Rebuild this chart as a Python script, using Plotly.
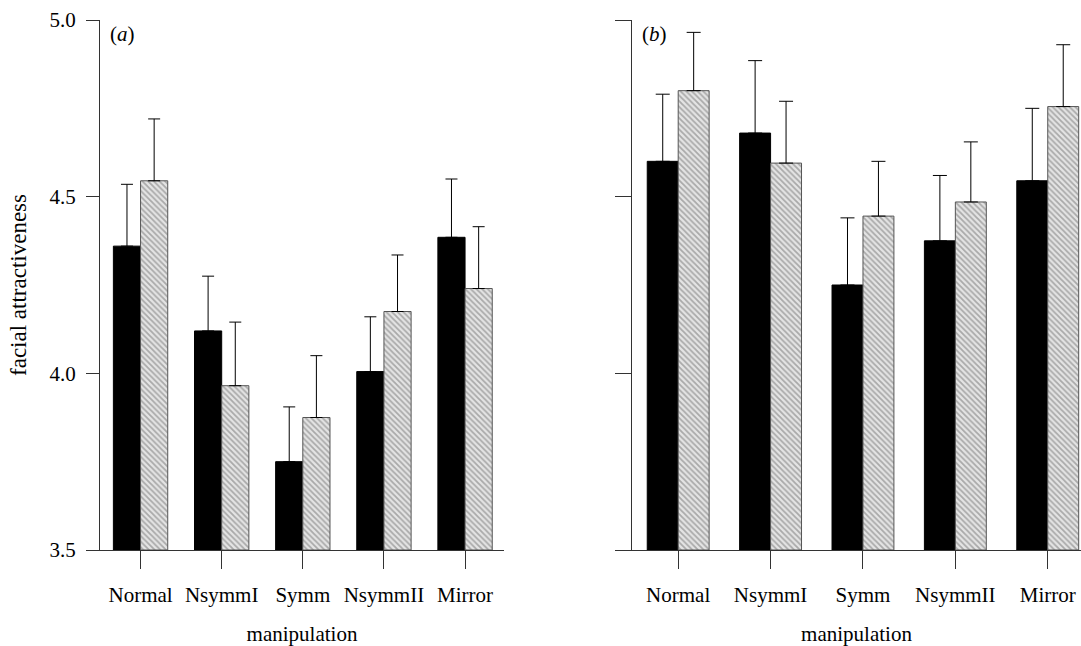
import plotly.graph_objects as go

categories = ["Normal", "NsymmI", "Symm", "NsymmII", "Mirror"]

# panel (a)
a_black = [4.36, 4.12, 3.75, 4.005, 4.385]
a_black_err = [0.175, 0.155, 0.155, 0.155, 0.165]
a_grey = [4.545, 3.965, 3.875, 4.175, 4.24]
a_grey_err = [0.175, 0.18, 0.175, 0.16, 0.175]

# panel (b)
b_black = [4.60, 4.68, 4.25, 4.375, 4.545]
b_black_err = [0.19, 0.205, 0.19, 0.185, 0.205]
b_grey = [4.80, 4.595, 4.445, 4.485, 4.755]
b_grey_err = [0.165, 0.175, 0.155, 0.17, 0.175]

y_ticks = [3.5, 4.0, 4.5, 5.0]

FONT = "Liberation Serif"
grey_pattern = dict(shape="\\", fgcolor="#6e6e6e", bgcolor="#e4e4e4", size=4, solidity=0.45)

fig = go.Figure()

def add_panel(black, black_err, grey, grey_err, xa, ya, capw):
    fig.add_trace(go.Bar(
        x=categories, y=[v - 3.5 for v in black], base=3.5,
        marker=dict(color="black", line=dict(color="black", width=1)),
        error_y=dict(type="data", symmetric=False, array=black_err,
                     arrayminus=[0] * len(black), color="black",
                     thickness=1, width=capw),
        xaxis=xa, yaxis=ya, showlegend=False,
    ))
    fig.add_trace(go.Bar(
        x=categories, y=[v - 3.5 for v in grey], base=3.5,
        marker=dict(color="#bdbdbd", pattern=grey_pattern,
                    line=dict(color="#555555", width=1)),
        error_y=dict(type="data", symmetric=False, array=grey_err,
                     arrayminus=[0] * len(grey), color="black",
                     thickness=1, width=capw),
        xaxis=xa, yaxis=ya, showlegend=False,
    ))

add_panel(a_black, a_black_err, a_grey, a_grey_err, "x", "y", 6)
add_panel(b_black, b_black_err, b_grey, b_grey_err, "x2", "y2", 7)

W, H = 1081, 646

xcommon = dict(
    type="category", showline=True, linecolor="#333333", linewidth=1,
    ticks="outside", ticklen=18, tickcolor="#333333", tickwidth=1,
    tickfont=dict(family=FONT, size=21, color="black"),
    ticklabelstandoff=8, showgrid=False, zeroline=False,
    title=dict(text="manipulation", font=dict(family=FONT, size=21, color="black"),
               standoff=21),
)
ycommon = dict(
    range=[3.5, 5.0], tickvals=y_ticks, showline=True, linecolor="#333333",
    linewidth=1, ticks="outside", tickcolor="#333333", tickwidth=1,
    showgrid=False, zeroline=False,
)

fig.update_layout(
    width=W, height=H,
    margin=dict(l=0, r=0, t=20, b=96),
    paper_bgcolor="white", plot_bgcolor="white",
    barmode="group", bargap=0.33, bargroupgap=0,
    font=dict(family=FONT, color="black"),
    xaxis=dict(domain=[100 / W, 504 / W], range=[-0.5, 4.48], anchor="y", **xcommon),
    xaxis2=dict(domain=[632 / W, 1.0], range=[-0.5, 4.36], anchor="y2", **xcommon),
    yaxis=dict(domain=[0, 1], anchor="x", ticklen=13, tickformat=".1f",
               ticklabelstandoff=6,
               tickfont=dict(family=FONT, size=21, color="black"),
               title=dict(text="facial attractiveness",
                          font=dict(family=FONT, size=23, color="black"),
                          standoff=16),
               **ycommon),
    yaxis2=dict(domain=[0, 1], anchor="x2", ticklen=16, showticklabels=False,
                **ycommon),
    annotations=[
        dict(text="(<i>a</i>)", xref="paper", yref="paper", x=108 / W, y=1.0,
             xanchor="left", yanchor="top", showarrow=False,
             font=dict(family=FONT, size=21, color="black")),
        dict(text="(<i>b</i>)", xref="paper", yref="paper", x=640 / W, y=1.0,
             xanchor="left", yanchor="top", showarrow=False,
             font=dict(family=FONT, size=21, color="black")),
    ],
)

fig.write_html(
    "out.html",
    config={"displayModeBar": False},
    post_script="document.body.style.margin='0';document.body.style.overflow='hidden';",
)
